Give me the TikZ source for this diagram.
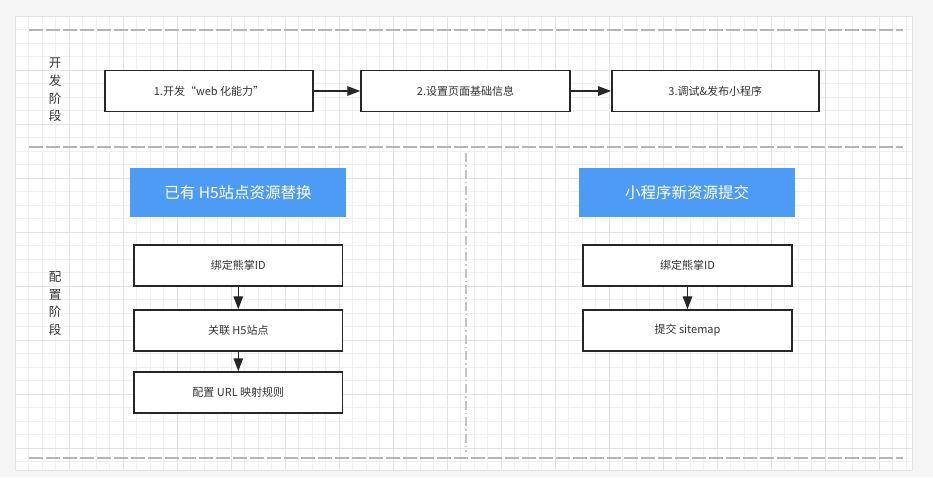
\documentclass[tikz,border=0pt]{standalone}
\usepackage{fontspec}
\setmainfont{Noto Sans CJK SC}
\usetikzlibrary{arrows.meta}
\definecolor{pagebg}{HTML}{F5F5F5}
\definecolor{gridminor}{HTML}{F0F0F0}
\definecolor{gridmajor}{HTML}{E3E3E3}
\definecolor{sepgray}{HTML}{B5B5B5}
\definecolor{bluebox}{HTML}{4D9BF5}
\definecolor{txt}{HTML}{333333}
\tikzset{
  stepbox/.style={draw=black!85, line width=1.5pt, fill=white, text=txt,
    minimum height=41pt, inner sep=0pt, font=\fontsize{11}{13}\selectfont},
  headbox/.style={fill=bluebox, text=white, minimum width=216pt, minimum height=49pt,
    inner sep=0pt, font=\fontsize{15.5}{18}\selectfont},
  stagelabel/.style={text=txt, align=center, font=\fontsize{12.5}{17.7}\selectfont},
  sepline/.style={draw=sepgray, line width=1.8pt, dash pattern=on 14pt off 3pt},
  divline/.style={draw=sepgray!80, line width=1.2pt, dash pattern=on 9pt off 3pt on 1.5pt off 3pt},
  flow/.style={draw=black!85, line width=1.4pt, -{Triangle[length=13pt,width=9.5pt]}},
}
\begin{document}
\begin{tikzpicture}[x=1pt,y=-1pt]
\useasboundingbox (0,0) rectangle (933,477);
\fill[pagebg] (0,0) rectangle (933,477);
\fill[white] (15,16) rectangle (912,470);
% grid
\foreach \i in {1,...,66} \draw[gridminor, line width=0.6pt] ({15+\i*13.5},16) -- ({15+\i*13.5},470);
\foreach \i in {1,...,33} \draw[gridminor, line width=0.6pt] (15,{16+\i*13.5}) -- (912,{16+\i*13.5});
\foreach \i in {1,...,16} \draw[gridmajor, line width=0.6pt] ({15+\i*54},16) -- ({15+\i*54},470);
\foreach \i in {1,...,8} \draw[gridmajor, line width=0.6pt] (15,{16+\i*54}) -- (912,{16+\i*54});
\draw[gridmajor, line width=0.6pt] (15,16) rectangle (912,470);
% separators
\draw[sepline] (29,30) -- (903,30);
\draw[sepline] (29,146.7) -- (903,146.7);
\draw[sepline] (29,457.7) -- (903,457.7);
\draw[divline] (466,153) -- (466,452);
% stage labels
\node[stagelabel] (s1) at (55,90) {开\\发\\阶\\段};
\node[stagelabel] (s2) at (55,303.5) {配\\置\\阶\\段};
% top flow
\node[stepbox, minimum width=208pt] (b1) at (209,91) {1.开发“web 化能力”};
\node[stepbox, minimum width=209pt] (b2) at (465.5,91) {2.设置页面基础信息};
\node[stepbox, minimum width=207pt] (b3) at (715.3,91) {3.调试\&发布小程序};
\draw[flow] (b1) -- (b2);
\draw[flow] (b2) -- (b3);
% left column
\node[headbox] (h1) at (238,192.5) {已有 H5站点资源替换};
\node[stepbox, minimum width=208.7pt] (l1) at (238.3,265.5) {绑定熊掌ID};
\node[stepbox, minimum width=208.7pt] (l2) at (238.3,330.5) {关联 H5站点};
\node[stepbox, minimum width=208.7pt] (l3) at (238.3,392.5) {配置 URL 映射规则};
\draw[flow] (l1) -- (l2);
\draw[flow] (l2) -- (l3);
% right column
\node[headbox] (h2) at (687,192.5) {小程序新资源提交};
\node[stepbox, minimum width=209pt] (r1) at (687.5,265.5) {绑定熊掌ID};
\node[stepbox, minimum width=209pt] (r2) at (687.5,330.5) {提交 sitemap};
\draw[flow] (r1) -- (r2);
\end{tikzpicture}
\end{document}
